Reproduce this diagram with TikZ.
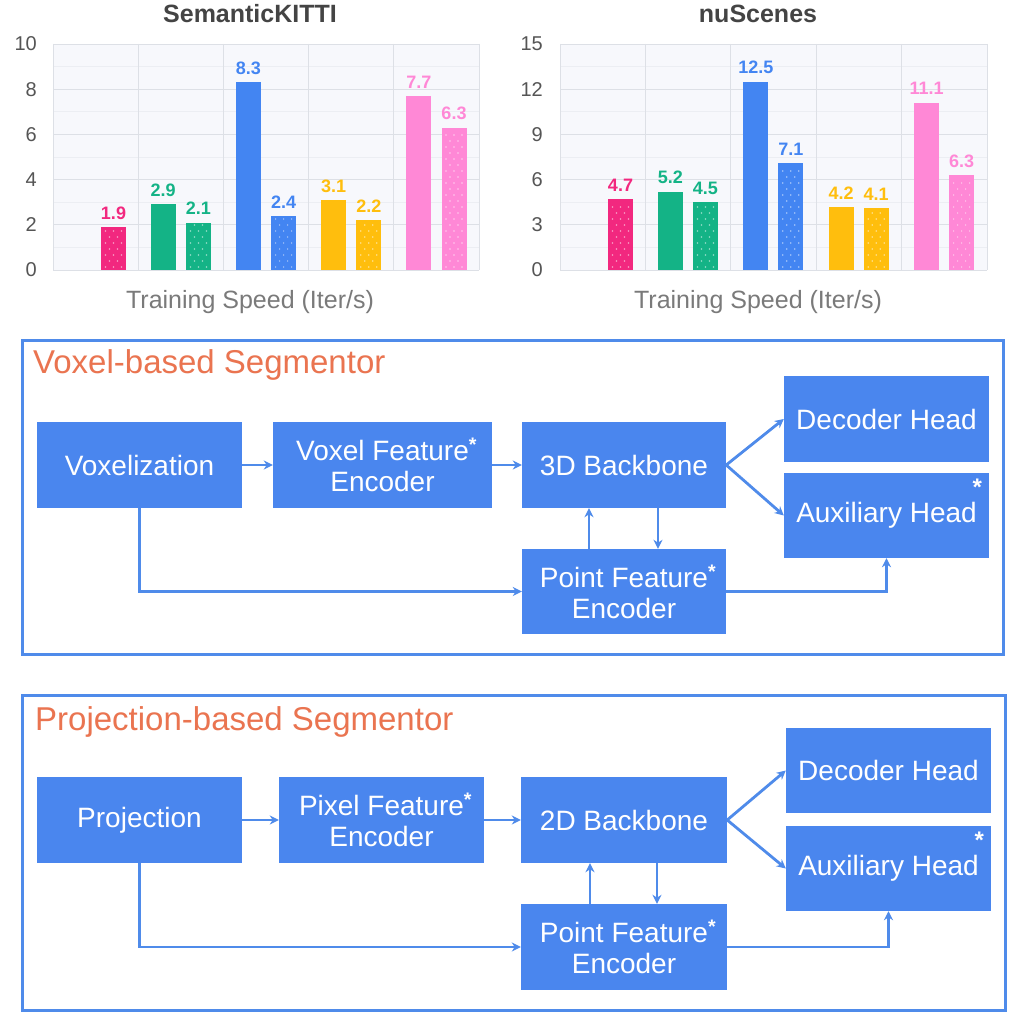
\documentclass[tikz,border=0pt]{standalone}
\usepackage{fontspec}
\setmainfont{Liberation Sans}
\usetikzlibrary{arrows.meta}
\definecolor{boxblue}{HTML}{4A86EE}
\definecolor{frameblue}{HTML}{4F8BEA}
\definecolor{ttlorange}{HTML}{EA7450}
\definecolor{cpinkA}{HTML}{F2287F}
\definecolor{cgreen}{HTML}{14B386}
\definecolor{cblue}{HTML}{4385F2}
\definecolor{cyellow}{HTML}{FFBE0D}
\definecolor{cpinkB}{HTML}{FF88D6}
\definecolor{plotbg}{HTML}{F7F8FC}
\definecolor{gridmaj}{HTML}{DDE0E6}
\definecolor{gridmin}{HTML}{ECEEF3}
\definecolor{axtext}{HTML}{555555}
\definecolor{ttlgray}{HTML}{444444}
\definecolor{xlabgray}{HTML}{7A7A7A}
\newcommand\myBar[6]{%
  \pgfmathsetmacro\bh{#3*#4}%
  \fill[#5] (#2,270) rectangle ++(25,-\bh);
  \ifnum#6=1
    \pgfmathtruncatemacro\ne{floor((\bh-5)/12)}%
    \pgfmathtruncatemacro\no{floor((\bh-11)/12)}%
    \foreach \k in {0,...,\ne}{\foreach \dx in {4.5,12.5,20.5}{\fill[white,opacity=.55] (#2+\dx,267-12*\k) circle (0.85pt);}}
    \foreach \k in {0,...,\no}{\foreach \dx in {8.5,16.5}{\fill[white,opacity=.55] (#2+\dx,261-12*\k) circle (0.85pt);}}
  \fi
  \node[vlabel,text=#5] (#1) at (#2+12.5,270-\bh-14) {#3};
}
\begin{document}
\begin{tikzpicture}[x=1pt,y=-1pt,
  vlabel/.style={font=\bfseries\fontsize{18}{18}\selectfont,inner sep=0pt},
  ytick/.style={anchor=east,inner sep=0pt,text=axtext,font=\fontsize{20}{20}\selectfont},
  ctitle/.style={inner sep=0pt,text=ttlgray,font=\bfseries\fontsize{25}{25}\selectfont},
  xlab/.style={inner sep=0pt,text=xlabgray,font=\fontsize{25}{25}\selectfont},
  gmaj/.style={draw=gridmaj,line width=0.8pt},
  gmin/.style={draw=gridmin,line width=0.6pt},
  box/.style={fill=boxblue,text=white,inner sep=0pt,align=center,font=\fontsize{28}{31}\selectfont},
  frame/.style={draw=frameblue,line width=3pt},
  stitle/.style={anchor=west,inner sep=0pt,text=ttlorange,font=\fontsize{33}{33}\selectfont},
  star/.style={inner sep=0pt,text=white,font=\bfseries\fontsize{24}{24}\selectfont},
  arr/.style={draw=frameblue,line width=2.8pt,-{Stealth[length=9pt,width=9pt]}}]
\useasboundingbox (0,0) rectangle (1024,1024);
\fill[white] (0,0) rectangle (1024,1024);
% ---------------- Chart 1
\fill[plotbg] (53,44) rectangle (479,270);
\foreach \v in {1,3,5,7,9} \draw[gmin] (53,270-\v*22.6) -- (479,270-\v*22.6);
\foreach \v in {0,2,...,10} {\draw[gmaj] (53,270-\v*22.6) -- (479,270-\v*22.6);
  \node[ytick] (ta\v) at (37,270-\v*22.6) {\v};}
\foreach \x in {53,138.2,223.4,308.6,393.8,479} \draw[gmaj] (\x,44) -- (\x,270);
\node[ctitle] (t1) at (250,14) {SemanticKITTI};
\node[xlab] (x1) at (250,302) {Training Speed (Iter/s)};
\myBar{a1}{101}{1.9}{22.6}{cpinkA}{1}
\myBar{a2}{150.7}{2.9}{22.6}{cgreen}{0}
\myBar{a3}{185.9}{2.1}{22.6}{cgreen}{1}
\myBar{a4}{235.9}{8.3}{22.6}{cblue}{0}
\myBar{a5}{271.1}{2.4}{22.6}{cblue}{1}
\myBar{a6}{321.1}{3.1}{22.6}{cyellow}{0}
\myBar{a7}{356.3}{2.2}{22.6}{cyellow}{1}
\myBar{a8}{406.3}{7.7}{22.6}{cpinkB}{0}
\myBar{a9}{441.5}{6.3}{22.6}{cpinkB}{1}
% ---------------- Chart 2
\fill[plotbg] (560,44) rectangle (987,270);
\foreach \v in {1.5,4.5,7.5,10.5,13.5} \draw[gmin] (560,270-\v*15.0667) -- (987,270-\v*15.0667);
\foreach \v in {0,3,...,15} {\draw[gmaj] (560,270-\v*15.0667) -- (987,270-\v*15.0667);
  \node[ytick] (tb\v) at (543,270-\v*15.0667) {\v};}
\foreach \x in {560,645.4,730.8,816.2,901.6,987} \draw[gmaj] (\x,44) -- (\x,270);
\node[ctitle] (t2) at (758,14) {nuScenes};
\node[xlab] (x2) at (758,302) {Training Speed (Iter/s)};
\myBar{b1}{608}{4.7}{15.0667}{cpinkA}{1}
\myBar{b2}{657.9}{5.2}{15.0667}{cgreen}{0}
\myBar{b3}{692.9}{4.5}{15.0667}{cgreen}{1}
\myBar{b4}{743.3}{12.5}{15.0667}{cblue}{0}
\myBar{b5}{778.3}{7.1}{15.0667}{cblue}{1}
\myBar{b6}{828.7}{4.2}{15.0667}{cyellow}{0}
\myBar{b7}{863.7}{4.1}{15.0667}{cyellow}{1}
\myBar{b8}{914.1}{11.1}{15.0667}{cpinkB}{0}
\myBar{b9}{949.1}{6.3}{15.0667}{cpinkB}{1}
% ---------------- Voxel-based
\draw[frame] (22,340) rectangle (1003,654);
\node[stitle] (vt) at (33,365) {Voxel-based Segmentor};
\node[box,minimum width=205pt,minimum height=86pt] (vox) at (139.5,465) {Voxelization};
\node[box,minimum width=219pt,minimum height=86pt] (vfe) at (382.5,465) {Voxel Feature\rlap{\textsuperscript{\bfseries *}}\\Encoder};
\node[box,minimum width=204pt,minimum height=86pt] (bb3) at (624,465) {3D Backbone};
\node[box,minimum width=205pt,minimum height=86pt] (dec) at (886.5,419) {Decoder Head};
\node[box,minimum width=205pt,minimum height=85pt] (aux) at (886.5,515.5) {Auxiliary Head};
\node[star] (auxs) at ([xshift=-12pt,yshift=-14pt]aux.north east) {*};
\node[box,minimum width=204pt,minimum height=85pt] (pfe) at (624,591.5) {Point Feature\rlap{\textsuperscript{\bfseries *}}\\Encoder};
\draw[arr] (vox.east) -- (vfe.west);
\draw[arr] (vfe.east) -- (bb3.west);
\draw[arr] (bb3.east) -- (dec.west);
\draw[arr] (bb3.east) -- (aux.west);
\draw[arr] ([xshift=-35pt]pfe.north) -- ([xshift=-35pt]bb3.south);
\draw[arr] ([xshift=34pt]bb3.south) -- ([xshift=34pt]pfe.north);
\draw[arr] (vox.south) |- (pfe.west);
\draw[arr] (pfe.east) -| (aux.south);
% ---------------- Projection-based
\draw[frame] (22,695) rectangle (1005,1010);
\node[stitle] (pt) at (35,722) {Projection-based Segmentor};
\node[box,minimum width=205pt,minimum height=86pt] (proj) at (139.5,820) {Projection};
\node[box,minimum width=205pt,minimum height=86pt] (pxfe) at (381.5,820) {Pixel Feature\rlap{\textsuperscript{\bfseries *}}\\Encoder};
\node[box,minimum width=206pt,minimum height=86pt] (bb2) at (624,820) {2D Backbone};
\node[box,minimum width=205pt,minimum height=85pt] (dec2) at (888.5,770.5) {Decoder Head};
\node[box,minimum width=205pt,minimum height=85pt] (aux2) at (888.5,868.5) {Auxiliary Head};
\node[star] (aux2s) at ([xshift=-12pt,yshift=-14pt]aux2.north east) {*};
\node[box,minimum width=206pt,minimum height=86pt] (pfe2) at (624,947) {Point Feature\rlap{\textsuperscript{\bfseries *}}\\Encoder};
\draw[arr] (proj.east) -- (pxfe.west);
\draw[arr] (pxfe.east) -- (bb2.west);
\draw[arr] (bb2.east) -- (dec2.west);
\draw[arr] (bb2.east) -- (aux2.west);
\draw[arr] ([xshift=-34pt]pfe2.north) -- ([xshift=-34pt]bb2.south);
\draw[arr] ([xshift=33pt]bb2.south) -- ([xshift=33pt]pfe2.north);
\draw[arr] (proj.south) |- (pfe2.west);
\draw[arr] (pfe2.east) -| (aux2.south);
\end{tikzpicture}
\end{document}
